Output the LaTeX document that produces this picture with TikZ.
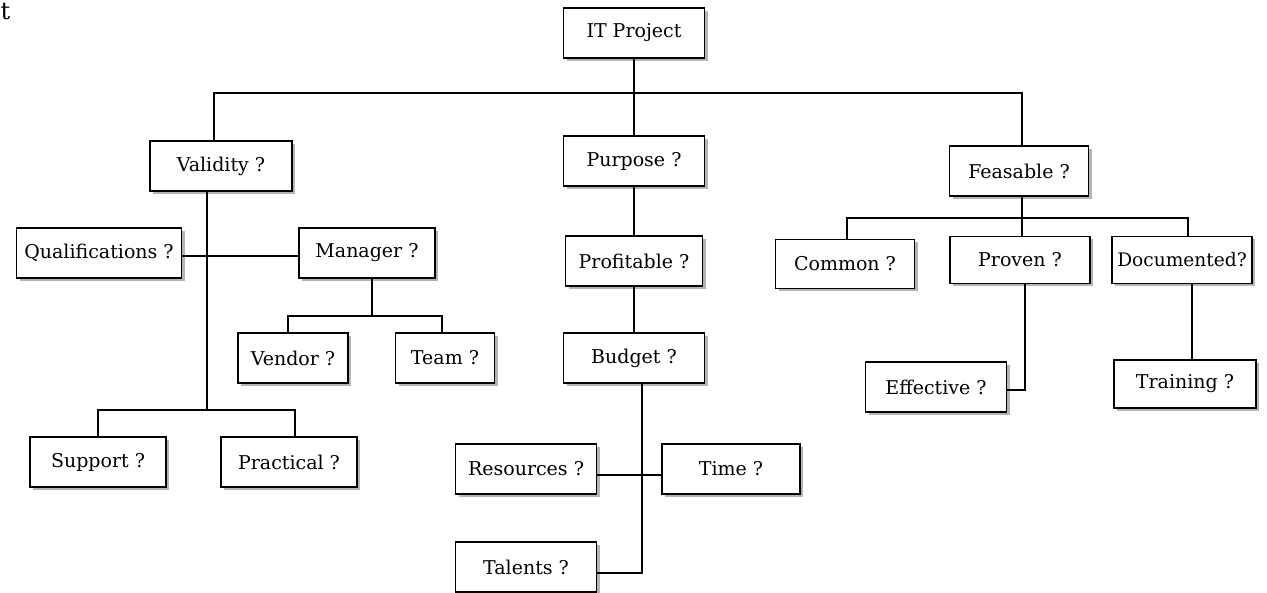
\documentclass[tikz,border=0pt]{standalone}
\usepackage{fontspec}
\setmainfont{DejaVu Serif}
\usetikzlibrary{shadows}
\definecolor{ITInk}{HTML}{000000}
\definecolor{ITShade}{HTML}{B4B4B4}
\tikzset{
  wire/.style={draw=ITInk,line width=1.6pt},
  qbox/.style={draw=ITInk,line width=1.6pt,fill=white,minimum height=50pt,inner sep=0pt,
               text=ITInk,font=\fontsize{19}{22}\selectfont,
               drop shadow={shadow xshift=3pt,shadow yshift=-3pt,fill=ITShade,opacity=1}},
  qwide/.style={qbox,font=\fontsize{18.6}{21}\selectfont},
}
\begin{document}
\begin{tikzpicture}[x=1pt,y=-1pt]
  \useasboundingbox[fill=white] (0,0) rectangle (1267,593);
  \node[font=\fontsize{24}{26}\selectfont,inner sep=0pt,anchor=west] (cut) at (0.5,12) {t};

  % top level
  \node[qbox,minimum width=141pt] (proj)  at (634,33)  {IT Project};
  \node[qbox,minimum width=142pt] (valid) at (221,166) {Validity ?};
  \node[qbox,minimum width=141pt] (purp)  at (634,161) {Purpose ?};
  \node[qbox,minimum width=139pt] (feas)  at (1019,171) {Feasable ?};

  % validity branch
  \node[qbox,minimum width=165pt] (qual) at (99,253)  {Qualifications ?};
  \node[qbox,minimum width=136pt] (mgr)  at (367,253) {Manager ?};
  \node[qbox,minimum width=110pt] (vend) at (293,358) {Vendor ?};
  \node[qbox,minimum width=99pt]  (team) at (445,358) {Team ?};
  \node[qbox,minimum width=136pt] (supp) at (98,462)  {Support ?};
  \node[qbox,minimum width=136pt] (prac) at (289,462) {Practical ?};

  % purpose branch
  \node[qbox,minimum width=137pt] (prof) at (634,261) {Profitable ?};
  \node[qbox,minimum width=141pt] (budg) at (634,358) {Budget ?};
  \node[qbox,minimum width=141pt] (res)  at (526,469) {Resources ?};
  \node[qbox,minimum width=138pt] (time) at (731,469) {Time ?};
  \node[qbox,minimum width=141pt] (tal)  at (526,567) {Talents ?};

  % feasable branch
  \node[qbox,minimum width=139pt,minimum height=49pt] (comm)  at (845,264)  {Common ?};
  \node[qbox,minimum width=140pt,minimum height=47pt] (prov)  at (1020,260) {Proven ?};
  \node[qwide,minimum width=140pt,minimum height=47pt] (doc)  at (1182,260) {Documented?};
  \node[qbox,minimum width=141pt] (eff)   at (936,387)  {Effective ?};
  \node[qbox,minimum width=142pt,minimum height=48pt] (train) at (1185,384) {Training ?};

  \coordinate (topbus)  at (634,93);
  \coordinate (valbus)  at (207,410);
  \coordinate (mgrbus)  at (372,316);
  \coordinate (feasbus) at (1022,218);

  \draw[wire] (proj.south) -- (purp.north);
  \draw[wire] ([xshift=-7pt]valid.north) |- (topbus) -| ([xshift=3pt]feas.north);

  \draw[wire] ([xshift=-14pt]valid.south) -- (valbus);
  \draw[wire] (supp.north) |- (valbus) -| ([xshift=6pt]prac.north);
  \draw[wire] ([yshift=-3pt]qual.east) -- ([yshift=-3pt]mgr.west);
  \draw[wire] ([xshift=5pt]mgr.south) -- (mgrbus);
  \draw[wire] ([xshift=-5pt]vend.north) |- (mgrbus) -| ([xshift=-3pt]team.north);

  \draw[wire] (purp.south) -- (prof.north);
  \draw[wire] (prof.south) -- (budg.north);
  \draw[wire] ([xshift=8pt]budg.south) |- ([yshift=-6pt]tal.east);
  \draw[wire] ([yshift=-6pt]res.east) -- ([yshift=-6pt]time.west);

  \draw[wire] ([xshift=3pt]feas.south) -- (feasbus);
  \draw[wire] ([xshift=2pt]comm.north) |- (feasbus) -| ([xshift=6pt]doc.north);
  \draw[wire] ([xshift=2pt]prov.north) -- (feasbus);
  \draw[wire] ([xshift=5pt]prov.south) |- ([yshift=-3pt]eff.east);
  \draw[wire] ([xshift=10pt]doc.south) -- ([xshift=7pt]train.north);
\end{tikzpicture}
\end{document}
